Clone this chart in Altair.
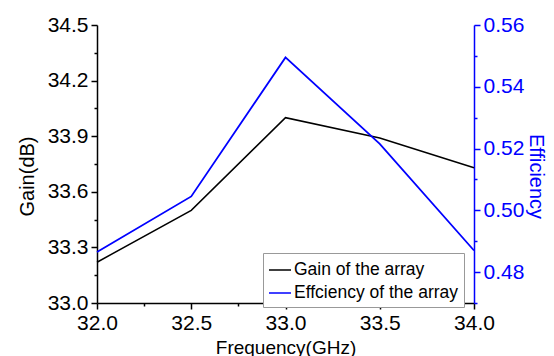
import altair as alt
import pandas as pd

freq = [32.0, 32.5, 33.0, 33.5, 34.0]
gain = [33.22, 33.50, 34.00, 33.89, 33.73]
eff = [0.4865, 0.5045, 0.5495, 0.5215, 0.4870]
series_names = ["Gain of the array", "Effciency of the array"]
series_colors = ["#000000", "#0000FF"]

x_ticks = [32.0, 32.25, 32.5, 32.75, 33.0, 33.25, 33.5, 33.75, 34.0]
gain_ticks = [33.0, 33.15, 33.3, 33.45, 33.6, 33.75, 33.9, 34.05, 34.2, 34.35, 34.5]
eff_ticks = [0.47, 0.48, 0.49, 0.50, 0.51, 0.52, 0.53, 0.54, 0.55, 0.56]

df_gain = pd.DataFrame({"freq": freq, "gain": gain, "series": series_names[0]})
df_eff = pd.DataFrame({"freq": freq, "eff": eff, "series": series_names[1]})

FONT = "Liberation Sans"

color = alt.Color(
    "series:N",
    scale=alt.Scale(domain=series_names, range=series_colors),
    legend=alt.Legend(
        title=None,
        orient="none",
        legendX=166,
        legendY=228,
        symbolType="stroke",
        symbolSize=484,
        symbolStrokeWidth=1.5,
        labelFont=FONT,
        labelFontSize=17.5,
        labelColor="black",
        labelOffset=2,
        labelLimit=400,
        padding=5,
        rowPadding=2,
        strokeColor="#999999",
        fillColor="white",
        cornerRadius=0,
    ),
)

x_enc = alt.X(
    "freq:Q",
    scale=alt.Scale(domain=[32.0, 34.0], nice=False, zero=False),
    axis=alt.Axis(
        title="Frequency(GHz)",
        values=x_ticks,
        labelExpr="abs(datum.value*2 - round(datum.value*2)) < 0.01 ? format(datum.value, '.1f') : ''",
        tickSize={"condition": {"test": "abs(datum.value*2 - round(datum.value*2)) > 0.01", "value": 3}, "value": 6},
        labelFont=FONT, labelFontSize=21, labelColor="black", labelPadding=3,
        labelFlush=False, labelOverlap=False, labelBound=False,
        titleFont=FONT, titleFontSize=19, titleFontWeight="normal", titleColor="black",
        titleY=50, titleBaseline="alphabetic",
        domainColor="black", tickColor="black", domainWidth=1.5, tickWidth=1.5,
        grid=False,
    ),
)

gain_line = alt.Chart(df_gain).mark_line(strokeWidth=1.5).encode(
    x=x_enc,
    y=alt.Y(
        "gain:Q",
        scale=alt.Scale(domain=[33.0, 34.5], nice=False, zero=False),
        axis=alt.Axis(
            title="Gain(dB)",
            orient="left",
            values=gain_ticks,
            labelExpr="abs(datum.value/0.3 - round(datum.value/0.3)) < 0.01 ? format(datum.value, '.1f') : ''",
            tickSize={"condition": {"test": "abs(datum.value/0.3 - round(datum.value/0.3)) > 0.01", "value": 3}, "value": 6},
            labelFont=FONT, labelFontSize=21, labelColor="black", labelPadding=3,
            labelFlush=False, labelOverlap=False, labelBound=False,
            titleFont=FONT, titleFontSize=20, titleFontWeight="normal", titleColor="black",
            titleX=-64, titleY=151, titleBaseline="alphabetic", titleAngle=270,
            domainColor="black", tickColor="black", domainWidth=1.5, tickWidth=1.5,
            grid=False,
        ),
    ),
    color=color,
)

eff_line = alt.Chart(df_eff).mark_line(strokeWidth=1.8).encode(
    x=x_enc,
    y=alt.Y(
        "eff:Q",
        scale=alt.Scale(domain=[0.47, 0.56], nice=False, zero=False),
        axis=alt.Axis(
            title="Efficiency",
            orient="right",
            values=eff_ticks,
            labelExpr="abs(datum.value/0.02 - round(datum.value/0.02)) < 0.01 ? format(datum.value, '.2f') : ''",
            tickSize={"condition": {"test": "abs(datum.value/0.02 - round(datum.value/0.02)) > 0.01", "value": 3}, "value": 6},
            labelFont=FONT, labelFontSize=21, labelColor="#0000FF", labelPadding=3,
            labelFlush=False, labelOverlap=False, labelBound=False,
            titleFont=FONT, titleFontSize=20, titleFontWeight="normal", titleColor="#0000FF",
            titleX=55, titleY=151, titleBaseline="alphabetic", titleAngle=90,
            domainColor="#0000FF", tickColor="#0000FF", domainWidth=1.5, tickWidth=1.5,
            grid=False,
        ),
    ),
    color=color,
)

chart = (
    alt.layer(gain_line, eff_line)
    .resolve_scale(y="independent")
    .properties(
        width=377,
        height=278,
        autosize=alt.AutoSizeParams(type="none"),
        padding={"left": 89, "top": 17, "right": 72, "bottom": 53},
        background="white",
    )
    .configure_view(stroke=None)
)

chart.save("out.html", embed_options={"renderer": "svg", "actions": False})
